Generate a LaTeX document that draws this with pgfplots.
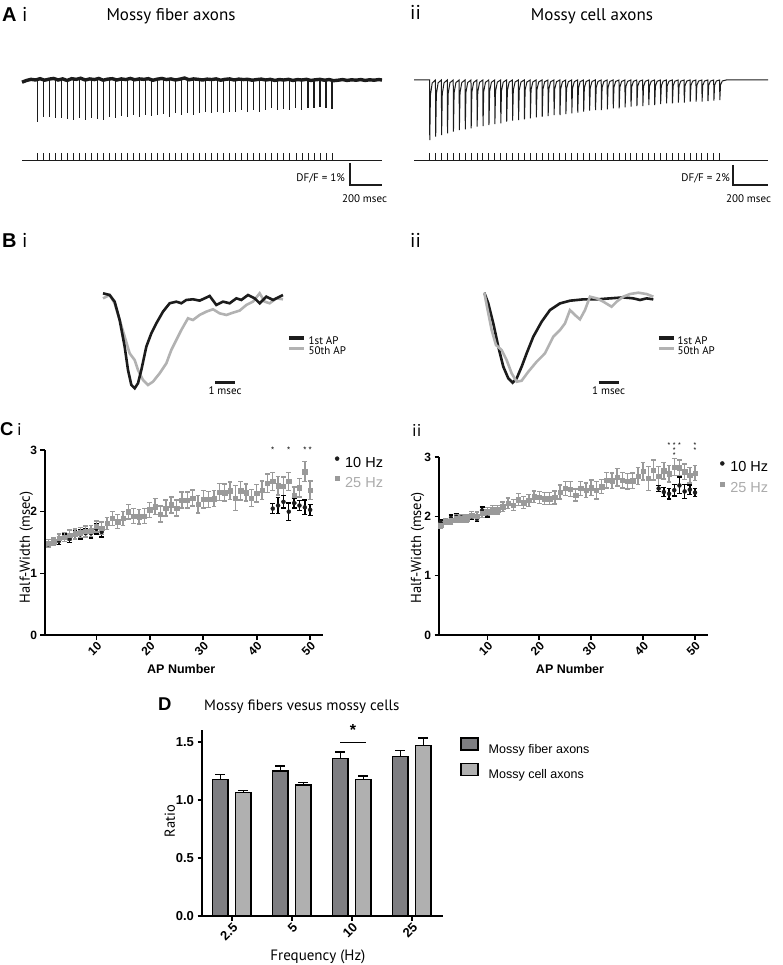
\documentclass[border=0pt]{standalone}
\usepackage{fontspec}
\setmainfont{Liberation Sans}
\newfontfamily\myr{PT Sans}
\usepackage{pgfplots}
\pgfplotsset{compat=1.18}
\usepackage{pgfplotstable}
\definecolor{trace}{HTML}{1C1C1C}
\definecolor{ltrace}{HTML}{B2B2B2}
\definecolor{gpt}{HTML}{9A9A9A}
\definecolor{gtxt}{HTML}{ABABAB}
\definecolor{dbar}{HTML}{7E7E82}
\definecolor{lbar}{HTML}{B0B0B0}
\newcommand{\fs}[1]{\fontsize{#1}{#1}\selectfont}

\pgfplotsset{
  legend cell align=left,
  gp/.style={scale only axis, anchor=south west, clip=false,
    axis x line*=bottom, axis y line*=left,
    axis line style={line width=1.8pt, -},
    tick align=outside, major tick length=4.5pt,
    tick style={line width=1.6pt, black},
    /pgf/number format/assume math mode=true,
    tick label style={font=\bfseries\fs{12}},
    xticklabel style={rotate=45, anchor=north east, inner sep=1pt},
    label style={font=\myr\fs{14.5}},
  },
  tr/.style={scale only axis, anchor=south west, hide axis, clip=false},
  gbar/.style={error bars/.cd, y dir=both, y explicit,
    error bar style={line width=1.4pt, gpt},
    error mark options={rotate=90, line width=1.4pt, mark size=2.4pt, gpt}},
  kbar/.style={error bars/.cd, y dir=both, y explicit,
    error bar style={line width=1.4pt, black},
    error mark options={rotate=90, line width=1.4pt, mark size=2.4pt, black}},
}

% A i: spike amplitudes (DF/F, %) and stimulus times (ms)
\pgfplotstableread{
t dff stim
100 -1.89 1
140 -1.67 1
180 -1.70 1
220 -1.74 1
260 -1.74 1
300 -1.79 1
340 -1.82 1
380 -1.74 1
420 -1.82 1
460 -1.74 1
500 -1.79 1
540 -1.82 1
580 -1.67 1
620 -1.74 1
660 -1.64 1
700 -1.67 1
740 -1.59 1
780 -1.67 1
820 -1.59 1
860 -1.64 1
900 -1.59 1
940 -1.55 1
980 -1.67 1
1020 -1.52 1
1060 -1.59 1
1100 -1.52 1
1140 -1.59 1
1180 -1.52 1
1220 -1.44 1
1260 -1.52 1
1300 -1.44 1
1340 -1.48 1
1380 -1.44 1
1420 -1.44 1
1460 -1.36 1
1500 -1.44 1
1540 -1.36 1
1580 -1.44 1
1620 -1.36 1
1660 -1.29 1
1700 -1.36 1
1740 -1.33 1
1780 -1.36 1
1820 -1.29 1
1860 -1.36 1
1900 -1.29 1
1940 -1.29 1
1980 -1.24 1
2020 -1.29 1
2060 -1.33 1
}\Aone

% A ii: stimulus times (ms)
\pgfplotstableread{
t stim
105 1
145 1
185 1
225 1
265 1
305 1
345 1
385 1
425 1
465 1
505 1
545 1
585 1
625 1
665 1
705 1
745 1
785 1
825 1
865 1
905 1
945 1
985 1
1025 1
1065 1
1105 1
1145 1
1185 1
1225 1
1265 1
1305 1
1345 1
1385 1
1425 1
1465 1
1505 1
1545 1
1585 1
1625 1
1665 1
1705 1
1745 1
1785 1
1825 1
1865 1
1905 1
1945 1
1985 1
2025 1
2065 1
}\Atwo

% C i
\pgfplotstableread{
x y e
1 1.49 0.06
2 1.51 0.06
3 1.57 0.07
4 1.59 0.07
5 1.62 0.08
6 1.64 0.08
7 1.66 0.08
8 1.68 0.09
9 1.69 0.09
10 1.76 0.09
11 1.73 0.10
12 1.81 0.10
13 1.89 0.11
14 1.84 0.11
15 1.89 0.11
16 2.00 0.12
17 1.93 0.12
18 1.92 0.12
19 1.93 0.12
20 2.03 0.12
21 2.08 0.13
22 1.96 0.13
23 2.06 0.13
24 2.11 0.13
25 2.06 0.13
26 2.19 0.13
27 2.19 0.13
28 2.22 0.13
29 2.12 0.14
30 2.20 0.14
31 2.20 0.13
32 2.21 0.13
33 2.32 0.14
34 2.31 0.14
35 2.34 0.14
36 2.22 0.20
37 2.34 0.15
38 2.31 0.14
39 2.22 0.14
40 2.30 0.14
41 2.35 0.15
42 2.46 0.15
43 2.49 0.15
44 2.42 0.15
45 2.41 0.15
46 2.49 0.15
47 2.27 0.13
48 2.39 0.15
49 2.65 0.16
50 2.35 0.15
}\CiG
\pgfplotstableread{
x y e
1 1.47 0.05
2 1.50 0.05
3 1.53 0.06
4 1.58 0.06
5 1.56 0.06
6 1.62 0.07
7 1.63 0.07
8 1.65 0.07
9 1.65 0.08
10 1.72 0.08
11 1.67 0.08
}\CiKa
\pgfplotstableread{
x y e
43 2.05 0.08
44 2.10 0.13
45 2.16 0.10
46 2.00 0.14
47 2.14 0.08
48 2.10 0.08
49 2.07 0.12
50 2.03 0.09
}\CiKb

% C ii
\pgfplotstableread{
x y e
1 1.85 0.05
2 1.91 0.05
3 1.93 0.06
4 1.96 0.06
5 1.96 0.06
6 1.96 0.06
7 2.02 0.06
8 2.00 0.07
9 2.05 0.07
10 2.08 0.07
11 2.11 0.07
12 2.11 0.07
13 2.16 0.08
14 2.22 0.09
15 2.19 0.09
16 2.28 0.10
17 2.23 0.10
18 2.27 0.10
19 2.33 0.10
20 2.32 0.10
21 2.30 0.10
22 2.30 0.10
23 2.32 0.11
24 2.41 0.12
25 2.47 0.12
26 2.46 0.13
27 2.36 0.10
28 2.47 0.12
29 2.44 0.12
30 2.48 0.13
31 2.44 0.15
32 2.50 0.12
33 2.61 0.13
34 2.60 0.13
35 2.66 0.15
36 2.61 0.13
37 2.59 0.13
38 2.60 0.13
39 2.68 0.14
40 2.76 0.15
41 2.64 0.20
42 2.78 0.17
43 2.68 0.16
44 2.77 0.14
45 2.72 0.14
46 2.83 0.14
47 2.82 0.13
48 2.75 0.13
49 2.69 0.13
50 2.73 0.13
}\CiiG
\pgfplotstableread{
x y e
1 1.90 0.04
2 1.92 0.04
3 1.97 0.05
4 1.99 0.05
5 1.98 0.05
6 1.95 0.05
7 2.00 0.05
8 1.96 0.05
9 2.10 0.06
10 2.05 0.06
}\CiiKa
\pgfplotstableread{
x y e
43 2.47 0.05
44 2.41 0.08
45 2.38 0.09
46 2.44 0.10
47 2.52 0.14
48 2.42 0.12
49 2.45 0.08
50 2.40 0.07
}\CiiKb

% D
\pgfplotstableread{
x mf mfe mc mce
0 1.175 0.045 1.065 0.015
1 1.250 0.045 1.130 0.020
2 1.360 0.055 1.175 0.030
3 1.375 0.050 1.470 0.065
}\Dtab

\begin{document}
\begin{tikzpicture}
\path[use as bounding box] (0pt,0pt) rectangle (782pt,-965pt);

% ---------- panel labels and titles
\node[anchor=base west, font=\bfseries\fs{20}, inner sep=0pt] at (2pt,-22pt) {A};
\node[anchor=base west, font=\myr\fs{20}, inner sep=0pt] at (22pt,-22pt) {i};
\node[anchor=base west, font=\myr\fs{20}, inner sep=0pt] at (410pt,-20pt) {ii};
\node[anchor=base, font=\myr\fs{17}, inner sep=0pt] at (171pt,-20.7pt) {Mossy fiber axons};
\node[anchor=base, font=\myr\fs{17}, inner sep=0pt] at (592pt,-20.7pt) {Mossy cell axons};
\node[anchor=base west, font=\bfseries\fs{20}, inner sep=0pt] at (2pt,-248pt) {B};
\node[anchor=base west, font=\myr\fs{20}, inner sep=0pt] at (22pt,-248pt) {i};
\node[anchor=base west, font=\myr\fs{20}, inner sep=0pt] at (410pt,-248pt) {ii};
\node[anchor=base west, font=\bfseries\fs{18.5}, inner sep=0pt] at (0pt,-435pt) {C};
\node[anchor=base west, font=\myr\fs{17}, inner sep=0pt] at (17pt,-435pt) {i};
\node[anchor=base west, font=\myr\fs{17}, inner sep=0pt] at (412pt,-436pt) {ii};
\node[anchor=base west, font=\bfseries\fs{18.5}, inner sep=0pt] at (158pt,-710pt) {D};
\node[anchor=base west, font=\myr\fs{15}, inner sep=0pt] at (204pt,-710pt) {Mossy fibers vesus mossy cells};

% ---------- A i trace
\begin{axis}[tr, at={(22pt,-187.8pt)}, width=360pt, height=116.6pt,
  xmin=0, xmax=2392, ymin=-4.9, ymax=0.4]
\addplot[ycomb, line width=1.1pt, trace] table[x=t, y=dff]{\Aone};
\addplot[line width=3.4pt, trace] coordinates {
(0,-0.10)(30,-0.02)(60,0.03)(90,0.00)(120,0.06)(150,-0.01)(180,0.04)(210,0.07)(240,0.00)(270,0.05)
(300,-0.02)(330,0.06)(360,0.03)(390,0.08)(420,0.00)(450,0.05)(480,0.02)(510,0.07)(540,-0.01)(570,0.04)
(600,0.06)(630,0.00)(660,0.05)(690,0.02)(720,0.07)(750,0.01)(780,0.05)(810,0.03)(840,0.06)(870,-0.01)
(900,0.04)(930,0.07)(960,0.02)(990,0.05)(1020,0.00)(1050,0.04)(1080,0.09)(1110,0.01)(1140,0.05)(1170,0.03)
(1200,0.00)(1230,0.04)(1260,0.02)(1290,0.05)(1320,-0.01)(1350,0.03)(1380,0.05)(1410,0.00)(1440,0.04)(1470,0.02)
(1500,0.03)(1530,-0.01)(1560,0.02)(1590,0.04)(1620,0.00)(1650,0.03)(1680,-0.02)(1710,0.02)(1740,0.00)(1770,0.03)
(1800,-0.02)(1830,0.02)(1860,0.00)(1890,0.03)(1920,-0.02)(1950,0.01)(1980,0.03)(2010,-0.01)(2040,0.02)(2070,-0.03)
(2100,-0.01)(2130,0.02)(2160,-0.02)(2190,0.01)(2220,-0.01)(2250,0.02)(2280,-0.02)(2310,0.01)(2340,-0.01)(2370,0.02)(2392,0.00)};
\addplot[line width=2.6pt, trace] coordinates {(2180,-3.77) (2180,-4.77) (2392,-4.77)};
\end{axis}
\begin{axis}[tr, at={(22pt,-160pt)}, width=360pt, height=7pt,
  xmin=0, xmax=2392, ymin=0, ymax=1]
\addplot[ycomb, line width=0.8pt, trace] table[x=t, y=stim]{\Aone};
\addplot[line width=0.9pt, trace] coordinates {(0,0) (2392,0)};
\end{axis}
\node[anchor=base east, font=\myr\fs{11}, inner sep=0pt] at (345pt,-181.7pt) {DF/F = 1\%};
\node[anchor=base, font=\myr\fs{11}, inner sep=0pt] at (364.5pt,-203pt) {200 msec};

% ---------- A ii trace
\begin{axis}[tr, at={(414pt,-188pt)}, width=354pt, height=113pt,
  xmin=0, xmax=2392, ymin=-10.8, ymax=0.5]
\addplot[line width=1pt, trace] coordinates {
(0,0)(105,0)(106.5,-6.00)(111,-1.50)(123,-0.30)
(145,0)(146.5,-5.67)(151,-1.42)(163,-0.28)
(185,0)(186.5,-5.50)(191,-1.38)(203,-0.28)
(225,0)(226.5,-5.33)(231,-1.33)(243,-0.27)
(265,0)(266.5,-5.17)(271,-1.29)(283,-0.26)
(305,0)(306.5,-5.00)(311,-1.25)(323,-0.25)
(345,0)(346.5,-4.93)(351,-1.23)(363,-0.25)
(385,0)(386.5,-4.83)(391,-1.21)(403,-0.24)
(425,0)(426.5,-4.67)(431,-1.17)(443,-0.23)
(465,0)(466.5,-4.60)(471,-1.15)(483,-0.23)
(505,0)(506.5,-4.50)(511,-1.13)(523,-0.23)
(545,0)(546.5,-4.40)(551,-1.10)(563,-0.22)
(585,0)(586.5,-4.33)(591,-1.08)(603,-0.22)
(625,0)(626.5,-4.17)(631,-1.04)(643,-0.21)
(665,0)(666.5,-4.07)(671,-1.02)(683,-0.20)
(705,0)(706.5,-4.00)(711,-1.00)(723,-0.20)
(745,0)(746.5,-3.93)(751,-0.98)(763,-0.20)
(785,0)(786.5,-3.83)(791,-0.96)(803,-0.19)
(825,0)(826.5,-3.73)(831,-0.93)(843,-0.19)
(865,0)(866.5,-3.67)(871,-0.92)(883,-0.18)
(905,0)(906.5,-3.60)(911,-0.90)(923,-0.18)
(945,0)(946.5,-3.50)(951,-0.88)(963,-0.18)
(985,0)(986.5,-3.50)(991,-0.88)(1003,-0.18)
(1025,0)(1026.5,-3.40)(1031,-0.85)(1043,-0.17)
(1065,0)(1066.5,-3.33)(1071,-0.83)(1083,-0.17)
(1105,0)(1106.5,-3.27)(1111,-0.82)(1123,-0.16)
(1145,0)(1146.5,-3.17)(1151,-0.79)(1163,-0.16)
(1185,0)(1186.5,-3.07)(1191,-0.77)(1203,-0.15)
(1225,0)(1226.5,-3.00)(1231,-0.75)(1243,-0.15)
(1265,0)(1266.5,-3.00)(1271,-0.75)(1283,-0.15)
(1305,0)(1306.5,-2.93)(1311,-0.73)(1323,-0.15)
(1345,0)(1346.5,-2.83)(1351,-0.71)(1363,-0.14)
(1385,0)(1386.5,-2.83)(1391,-0.71)(1403,-0.14)
(1425,0)(1426.5,-2.73)(1431,-0.68)(1443,-0.14)
(1465,0)(1466.5,-2.67)(1471,-0.67)(1483,-0.13)
(1505,0)(1506.5,-2.60)(1511,-0.65)(1523,-0.13)
(1545,0)(1546.5,-2.60)(1551,-0.65)(1563,-0.13)
(1585,0)(1586.5,-2.50)(1591,-0.63)(1603,-0.13)
(1625,0)(1626.5,-2.50)(1631,-0.63)(1643,-0.13)
(1665,0)(1666.5,-2.40)(1671,-0.60)(1683,-0.12)
(1705,0)(1706.5,-2.33)(1711,-0.58)(1723,-0.12)
(1745,0)(1746.5,-2.33)(1751,-0.58)(1763,-0.12)
(1785,0)(1786.5,-2.27)(1791,-0.57)(1803,-0.11)
(1825,0)(1826.5,-2.27)(1831,-0.57)(1843,-0.11)
(1865,0)(1866.5,-2.17)(1871,-0.54)(1883,-0.11)
(1905,0)(1906.5,-2.17)(1911,-0.54)(1923,-0.11)
(1945,0)(1946.5,-2.17)(1951,-0.54)(1963,-0.11)
(1985,0)(1986.5,-2.10)(1991,-0.53)(2003,-0.11)
(2025,0)(2026.5,-2.07)(2031,-0.52)(2043,-0.10)
(2065,0)(2066.5,-2.00)(2071,-0.50)(2083,-0.10)
(2110,0)(2392,0)};
\addplot[line width=2.6pt, trace] coordinates {(2155,-8.5) (2155,-10.5) (2392,-10.5)};
\end{axis}
\begin{axis}[tr, at={(414pt,-160pt)}, width=354pt, height=7pt,
  xmin=0, xmax=2392, ymin=0, ymax=1]
\addplot[ycomb, line width=0.8pt, trace] table[x=t, y=stim]{\Atwo};
\addplot[line width=0.9pt, trace] coordinates {(0,0) (2392,0)};
\end{axis}
\node[anchor=base east, font=\myr\fs{11}, inner sep=0pt] at (730pt,-181.7pt) {DF/F = 2\%};
\node[anchor=base, font=\myr\fs{11}, inner sep=0pt] at (748.5pt,-203pt) {200 msec};

% ---------- B i waveforms
\begin{axis}[tr, at={(103pt,-402.55pt)}, width=180pt, height=114pt,
  xmin=0, xmax=9, ymin=-1.15, ymax=0.05,
  legend image code/.code={\draw[#1] (0pt,3pt) -- (15pt,3pt);},
  legend style={at={(axis description cs:1.022,0.584)}, anchor=north west,
    draw=none, fill=none, inner sep=0pt, row sep=0.3pt, font=\myr\fs{11},
    nodes={inner sep=0pt, text height=8pt, text depth=2pt},
    /tikz/every odd column/.append style={column sep=3pt}}]
\addlegendimage{line width=3.5pt, trace}
\addlegendentry{1st AP}
\addlegendimage{line width=3.5pt, ltrace}
\addlegendentry{50th AP}
\addplot[forget plot, line width=2.6pt, ltrace] coordinates {
(0,-0.053)(0.333,-0.018)(0.583,-0.105)(0.833,-0.281)(1.083,-0.456)(1.333,-0.632)(1.583,-0.702)
(1.75,-0.807)(2.0,-0.912)(2.25,-0.965)(2.5,-0.930)(2.833,-0.842)(3.167,-0.737)(3.417,-0.596)
(3.667,-0.491)(3.917,-0.386)(4.25,-0.263)(4.5,-0.281)(4.833,-0.228)(5.167,-0.193)(5.5,-0.168)
(5.833,-0.211)(6.167,-0.228)(6.5,-0.204)(6.833,-0.182)(7.167,-0.123)(7.5,-0.088)(7.833,0)
(8.083,-0.088)(8.333,-0.105)(8.667,-0.053)(9.0,-0.063)};
\addplot[forget plot, line width=2.6pt, trace] coordinates {
(0,0)(0.333,-0.018)(0.583,-0.088)(0.833,-0.281)(1.083,-0.561)(1.25,-0.807)(1.417,-0.965)
(1.583,-1.0)(1.75,-0.947)(1.917,-0.807)(2.167,-0.561)(2.417,-0.421)(2.667,-0.316)(3.0,-0.193)
(3.333,-0.105)(3.667,-0.088)(3.917,-0.105)(4.167,-0.070)(4.5,-0.063)(4.833,-0.077)(5.083,-0.053)
(5.333,-0.028)(5.667,-0.123)(6.0,-0.088)(6.333,-0.105)(6.667,-0.053)(6.917,-0.070)(7.25,-0.018)
(7.583,-0.053)(7.833,-0.105)(8.167,-0.035)(8.5,-0.070)(9.0,-0.018)};
\addplot[forget plot, line width=3pt, trace] coordinates {(5.6,-0.944) (6.6,-0.944)};
\node[anchor=base, font=\myr\fs{11}, inner sep=0pt] at (axis cs:6.1,-1.06) {1 msec};
\end{axis}

% ---------- B ii waveforms
\begin{axis}[tr, at={(484.3pt,-396.2pt)}, width=180pt, height=108pt,
  xmin=0, xmax=9, ymin=-1.15, ymax=0.05,
  legend image code/.code={\draw[#1] (0pt,3pt) -- (15pt,3pt);},
  legend style={at={(axis description cs:0.959,0.557)}, anchor=north west,
    draw=none, fill=none, inner sep=0pt, row sep=0.3pt, font=\myr\fs{11},
    nodes={inner sep=0pt, text height=8pt, text depth=2pt},
    /tikz/every odd column/.append style={column sep=2pt}}]
\addlegendimage{line width=3.5pt, trace}
\addlegendentry{1st AP}
\addlegendimage{line width=3.5pt, ltrace}
\addlegendentry{50th AP}
\addplot[forget plot, line width=2.6pt, trace] coordinates {
(0,0)(0.2,-0.119)(0.45,-0.341)(0.7,-0.6)(0.95,-0.822)(1.2,-0.952)(1.417,-1.0)(1.617,-0.952)
(1.867,-0.822)(2.117,-0.674)(2.45,-0.489)(2.867,-0.322)(3.283,-0.193)(3.783,-0.119)(4.283,-0.089)
(4.95,-0.074)(5.617,-0.074)(6.283,-0.063)(6.95,-0.052)(7.45,-0.063)(7.783,-0.081)(8.117,-0.063)(8.45,-0.074)};
\addplot[forget plot, line width=2.6pt, ltrace] coordinates {
(0,0)(0.167,-0.193)(0.367,-0.415)(0.583,-0.581)(0.867,-0.637)(1.117,-0.748)(1.367,-0.896)
(1.617,-0.989)(1.867,-0.978)(2.2,-0.878)(2.617,-0.767)(3.033,-0.674)(3.45,-0.489)(3.783,-0.415)
(4.033,-0.341)(4.283,-0.193)(4.533,-0.248)(4.783,-0.296)(5.033,-0.193)(5.283,-0.044)(5.617,-0.063)
(5.95,-0.1)(6.367,-0.156)(6.617,-0.1)(6.95,-0.044)(7.283,-0.015)(7.7,0)(8.117,-0.015)(8.45,-0.044)};
\addplot[forget plot, line width=3pt, trace] coordinates {(5.72,-1.0) (6.72,-1.0)};
\node[anchor=base, font=\myr\fs{11}, inner sep=0pt] at (axis cs:6.22,-1.126) {1 msec};
\end{axis}

% ---------- C i
\begin{axis}[gp, at={(45pt,-635pt)}, width=278pt, height=185pt,
  xmin=0.4, xmax=52.4, ymin=0, ymax=3,
  xtick={10,20,30,40,50}, ytick={0,1,2,3},
  ylabel={Half-Width (msec)},
  ylabel style={at={(axis description cs:-0.067,0.473)}, anchor=center},
  xlabel={AP Number},
  xlabel style={at={(axis description cs:0.49,-0.184)}, anchor=center, font=\normalfont\bfseries\fs{12.5}},
  legend image code/.code={\draw[#1] plot coordinates {(2pt,4.5pt)};},
  legend style={at={(axis description cs:1.043,0.968)}, anchor=north west,
    draw=none, fill=none, inner sep=0pt, row sep=6pt, font=\fs{14.5},
    nodes={inner sep=0pt, text height=11pt, text depth=3pt},
    /tikz/every odd column/.append style={column sep=6pt}}]
\addlegendimage{only marks, mark=*, mark size=2pt, trace}
\addlegendentry{10 Hz}
\addlegendimage{only marks, mark=square*, mark size=2pt, gpt}
\addlegendentry{\textcolor{gtxt}{25 Hz}}
\addplot[forget plot, only marks, mark=*, mark size=2pt, trace, kbar] table[x=x, y=y, y error=e]{\CiKa};
\addplot[forget plot, only marks, mark=square*, mark size=2.2pt, gpt, gbar] table[x=x, y=y, y error=e]{\CiG};
\addplot[forget plot, only marks, mark=*, mark size=2pt, trace, kbar] table[x=x, y=y, y error=e]{\CiKb};
\node[font=\fs{8}] at (axis cs:43,3.0) {*};
\node[font=\fs{8}] at (axis cs:46,3.0) {*};
\node[font=\fs{8}] at (axis cs:49,3.0) {*};
\node[font=\fs{8}] at (axis cs:50,3.0) {*};
\end{axis}

% ---------- C ii
\begin{axis}[gp, at={(439pt,-635pt)}, width=269pt, height=178pt,
  xmin=0.7, xmax=52.5, ymin=0, ymax=3,
  xtick={10,20,30,40,50}, ytick={0,1,2,3},
  ylabel={Half-Width (msec)},
  ylabel style={at={(axis description cs:-0.08,0.49)}, anchor=center},
  xlabel={AP Number},
  xlabel style={at={(axis description cs:0.487,-0.193)}, anchor=center, font=\normalfont\bfseries\fs{12.5}},
  legend image code/.code={\draw[#1] plot coordinates {(2pt,4.5pt)};},
  legend style={at={(axis description cs:1.045,0.979)}, anchor=north west,
    draw=none, fill=none, inner sep=0pt, row sep=7pt, font=\fs{14.5},
    nodes={inner sep=0pt, text height=11pt, text depth=3pt},
    /tikz/every odd column/.append style={column sep=6pt}}]
\addlegendimage{only marks, mark=*, mark size=2pt, trace}
\addlegendentry{10 Hz}
\addlegendimage{only marks, mark=square*, mark size=2pt, gpt}
\addlegendentry{\textcolor{gtxt}{25 Hz}}
\addplot[forget plot, only marks, mark=*, mark size=2pt, trace, kbar] table[x=x, y=y, y error=e]{\CiiKa};
\addplot[forget plot, only marks, mark=square*, mark size=2.2pt, gpt, gbar] table[x=x, y=y, y error=e]{\CiiG};
\addplot[forget plot, only marks, mark=*, mark size=2pt, trace, kbar] table[x=x, y=y, y error=e]{\CiiKb};
\node[font=\fs{7}, inner sep=0pt] at (axis cs:45,3.2) {*};
\node[font=\fs{7}, inner sep=0pt] at (axis cs:46,3.2) {*};
\node[font=\fs{7}, inner sep=0pt] at (axis cs:47,3.2) {*};
\node[font=\fs{7}, inner sep=0pt] at (axis cs:46,3.12) {*};
\node[font=\fs{7}, inner sep=0pt] at (axis cs:46,3.04) {*};
\node[font=\fs{7}, inner sep=0pt] at (axis cs:50,3.2) {*};
\node[font=\fs{7}, inner sep=0pt] at (axis cs:50,3.12) {*};
\end{axis}

% ---------- D
\begin{axis}[gp, ybar, at={(202pt,-916pt)}, width=241pt, height=185.6pt,
  xmin=-0.5, xmax=3.52, ymin=0, ymax=1.6,
  bar width=15.5pt,
  xtick={0,1,2,3}, xticklabels={2.5,5,10,25},
  ytick={0,0.5,1,1.5},
  yticklabel style={/pgf/number format/.cd, fixed, fixed zerofill, precision=1},
  tick label style={font=\bfseries\fs{13}},
  ylabel={Ratio}, ylabel style={at={(axis description cs:-0.133,0.51)}, anchor=center},
  xlabel={Frequency (Hz)},
  xlabel style={at={(axis description cs:0.481,-0.22)}, anchor=center, font=\myr\fs{15}},
  legend image code/.code={\draw[#1] (0pt,0pt) rectangle (17pt,12pt);},
  legend style={at={(axis description cs:1.0705,0.964)}, anchor=north west,
    draw=none, fill=none, inner sep=0pt, row sep=6pt, font=\fs{12.5},
    nodes={inner sep=0pt, text height=10pt, text depth=3pt},
    /tikz/every odd column/.append style={column sep=10pt}}]
\addlegendimage{fill=dbar, draw=black, line width=1.5pt}
\addlegendentry{Mossy fiber axons}
\addlegendimage{fill=lbar, draw=black, line width=1.5pt}
\addlegendentry{Mossy cell axons}
\addplot[forget plot, bar shift=-11.5pt, fill=dbar, draw=black, line width=1.5pt,
  error bars/.cd, y dir=plus, y explicit,
  error bar style={line width=1.5pt, black},
  error mark options={rotate=90, line width=1.5pt, mark size=5pt, black}]
  table[x=x, y=mf, y error=mfe]{\Dtab};
\addplot[forget plot, bar shift=11.5pt, fill=lbar, draw=black, line width=1.5pt,
  error bars/.cd, y dir=plus, y explicit,
  error bar style={line width=1.5pt, black},
  error mark options={rotate=90, line width=1.5pt, mark size=5pt, black}]
  table[x=x, y=mc, y error=mce]{\Dtab};
\addplot[forget plot, sharp plot, line width=1.5pt, black] coordinates {(1.81,1.497) (2.24,1.497)};
\node[font=\bfseries\fs{16}] at (axis cs:2.02,1.60) {*};
\end{axis}
\end{tikzpicture}
\end{document}
